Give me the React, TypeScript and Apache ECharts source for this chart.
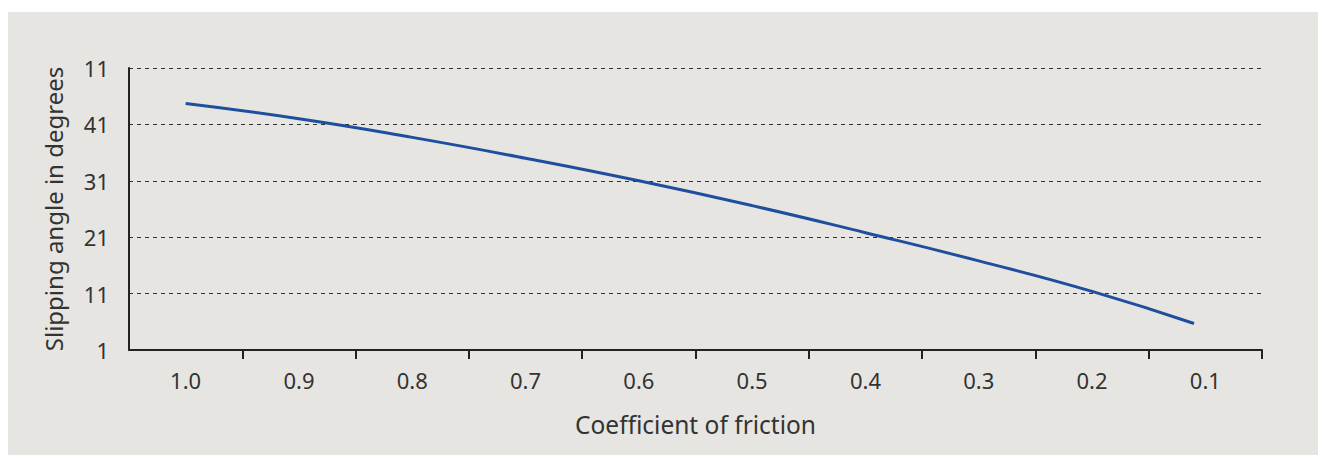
import React, { useEffect, useRef } from "react";
import * as echarts from "echarts";

const xCategories = ["1.0", "0.9", "0.8", "0.7", "0.6", "0.5", "0.4", "0.3", "0.2", "0.1"];
const yTickLabels = ["1", "11", "21", "31", "41", "11"];
const frictionValues = [1.0, 0.9, 0.8, 0.7, 0.6, 0.5, 0.4, 0.3, 0.2, 0.11];
const angleValues = [44.7, 42.0, 38.7, 35.0, 31.0, 26.6, 21.8, 16.8, 11.4, 5.7];

const FONT = "'Noto Sans', 'Open Sans', sans-serif";

export default function App() {
  const ref = useRef<HTMLDivElement>(null);
  useEffect(() => {
    if (!ref.current) return;
    const chart = echarts.init(ref.current, undefined, { renderer: "svg" });
    const lineData = frictionValues.map((f, i) => [f, angleValues[i]]);
    chart.setOption({
      animation: false,
      backgroundColor: "#e6e5e1",
      textStyle: { fontFamily: FONT },
      grid: { left: 121, right: 56, top: 56, bottom: 105 },
      xAxis: [
        {
          type: "category",
          data: xCategories,
          boundaryGap: true,
          name: "Coefficient of friction",
          nameLocation: "middle",
          nameGap: 62,
          nameTextStyle: { fontSize: 24.5, color: "#333", fontFamily: FONT },
          axisLine: { show: true, lineStyle: { color: "#222", width: 2 } },
          axisTick: {
            show: true,
            length: 9,
            lineStyle: { color: "#222", width: 2 },
            interval: (i: number) => i !== 0,
          },
          axisLabel: { fontSize: 22, color: "#333", margin: 19, fontFamily: FONT },
          splitLine: { show: false },
        },
        {
          type: "value",
          min: 0.05,
          max: 1.05,
          inverse: true,
          show: false,
          splitLine: { show: false },
        },
      ],
      yAxis: {
        type: "value",
        min: 1,
        max: 51,
        interval: 10,
        name: "Slipping angle in degrees",
        nameLocation: "middle",
        nameRotate: 90,
        nameGap: 64,
        nameTextStyle: { fontSize: 24, color: "#333", fontFamily: FONT },
        axisLine: { show: true, lineStyle: { color: "#222", width: 2 } },
        axisTick: { show: false },
        axisLabel: {
          fontSize: 22,
          color: "#333",
          margin: 20,
          fontFamily: FONT,
          formatter: (v: number) => {
            const idx = Math.round((v - 1) / 10);
            return yTickLabels[idx] ?? String(v);
          },
        },
        splitLine: {
          show: true,
          lineStyle: { color: "#333", width: 1, type: [4, 4] },
        },
      },
      series: [
        {
          type: "line",
          xAxisIndex: 1,
          data: lineData,
          smooth: true,
          showSymbol: false,
          symbol: "none",
          lineStyle: { color: "#1f4e9f", width: 3 },
        },
      ],
    });
    return () => chart.dispose();
  }, []);
  return (
    <div style={{ paddingTop: 4 }}>
      <div ref={ref} style={{ width: 1310, height: 443 }} />
    </div>
  );
}
